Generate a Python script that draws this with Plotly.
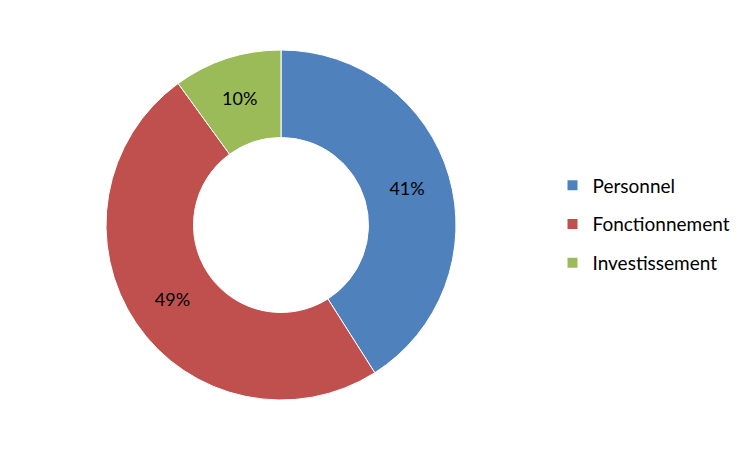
import plotly.graph_objects as go

labels = ["Personnel", "Fonctionnement", "Investissement"]
values = [41, 49, 10]
colors = ["#4F81BD", "#C0504D", "#9BBB59"]

fig = go.Figure()
fig.add_trace(go.Pie(
    labels=labels,
    values=values,
    hole=0.5,
    sort=False,
    direction="clockwise",
    rotation=0,
    marker=dict(colors=colors, line=dict(color="white", width=1)),
    textinfo="percent",
    texttemplate="%{percent:.0%}",
    textposition="inside",
    insidetextorientation="horizontal",
    textfont=dict(family="Lato", size=18, color="black"),
    domain=dict(x=[98/750, 448/750], y=[58/450, 408/450]),
    showlegend=False,
))

# legend entries (one per category)
for lab, col in zip(labels, colors):
    fig.add_trace(go.Scatter(
        x=[None], y=[None], mode="markers", name=lab, legendgroup=lab,
        marker=dict(symbol="square", size=10, color=col),
        hoverinfo="skip",
    ))

fig.update_layout(
    width=750, height=450,
    margin=dict(l=0, r=0, t=0, b=0),
    paper_bgcolor="white",
    plot_bgcolor="white",
    xaxis=dict(visible=False),
    yaxis=dict(visible=False),
    showlegend=True,
    legend=dict(x=0.726, y=0.519, xanchor="left", yanchor="middle",
                font=dict(family="Lato", size=19, color="black"),
                itemwidth=30, tracegroupgap=11, bgcolor="rgba(0,0,0,0)"),
)

fig.write_html("out.html")
